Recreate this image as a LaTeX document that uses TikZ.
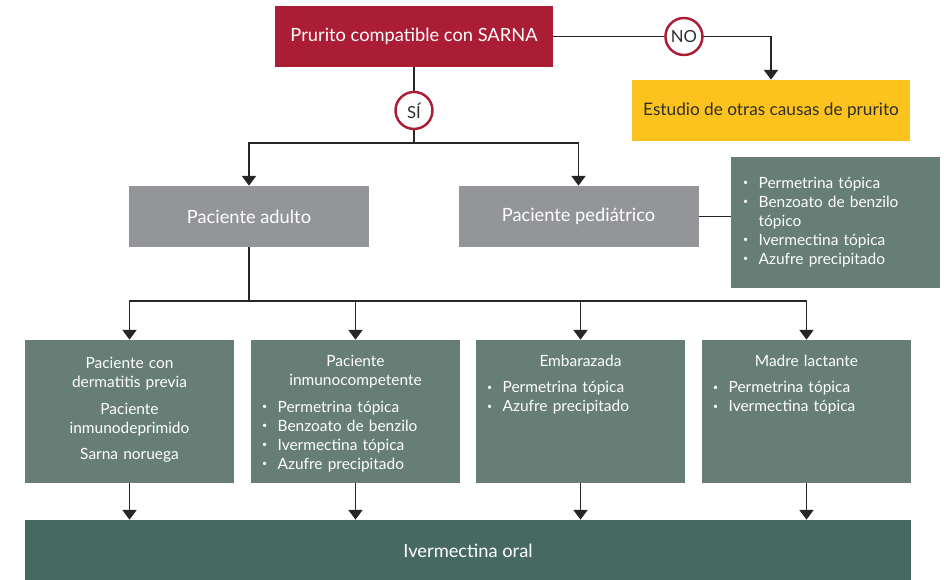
\documentclass[tikz,border=0pt]{standalone}
\usepackage{fontspec}
\setmainfont{Lato}
\usepackage{tikz}
\usetikzlibrary{arrows.meta}
\usetikzlibrary{positioning,calc}
\definecolor{sarnared}{HTML}{AA1D35}
\definecolor{otrasyellow}{HTML}{FCC31F}
\definecolor{pacgray}{HTML}{939598}
\definecolor{tratgreen}{HTML}{667E75}
\definecolor{oralgreen}{HTML}{466A61}
\definecolor{textgray}{HTML}{2E2E2E}
\newcommand*{\px}{0.02cm}
\newcommand*{\punto}{\raisebox{0.35ex}{\fontsize{5}{5}\selectfont\textbullet}}
\newcommand*{\grande}{\fontsize{10.4}{12}\selectfont}
\newcommand*{\chico}{\fontsize{8.8}{10.8}\selectfont}

\begin{document}
\begin{tikzpicture}[x=0.02cm,y=-0.02cm,
	caja/.style={rectangle,inner sep=0pt,text=white,font=\grande},
	trat/.style={caja,fill=tratgreen,minimum width=209*\px,minimum height=143*\px},
	texto/.style={anchor=north,inner sep=0pt,text=white,font=\chico,text width=187*\px,align=left},
	circ/.style={circle,draw=sarnared,line width=1.4pt,fill=white,minimum size=37*\px,inner sep=0pt,text=textgray,font=\fontsize{9.5}{11}\selectfont},
	flecha/.style={-{Triangle[width=8pt,length=5.5pt]}},
	linea/.style={line width=0.7pt,black!85}]
	\useasboundingbox (0,0) rectangle (944,580);
	% cajas
	\node[caja,fill=sarnared,minimum width=278*\px,minimum height=61*\px] (sarna) at (414,36.5) {Prurito compatible con SARNA};
	\node[caja,fill=otrasyellow,text=textgray,font=\fontsize{9.8}{12}\selectfont,minimum width=278*\px,minimum height=61*\px] (otras) at (771,110.5) {Estudio de otras causas de prurito};
	\node[caja,fill=pacgray,minimum width=240*\px,minimum height=61*\px] (adulto) at (249,216.5) {Paciente adulto};
	\node[caja,fill=pacgray,minimum width=240*\px,minimum height=61*\px] (pediatrico) at (578.5,216.5) {Paciente pedi\'atrico};
	\node[caja,fill=tratgreen,font=\chico,minimum width=209*\px,minimum height=131*\px,text width=185*\px,inner xsep=12*\px,align=left] (pedtrat) at (835.5,222.5) {%
		\begin{tabular}{@{}l@{\hspace{6pt}}l@{}}
		\punto & Permetrina tópica\\
		\punto & Benzoato de benzilo\\
		       & tópico\\
		\punto & Ivermectina tópica\\
		\punto & Azufre precipitado
		\end{tabular}};
	\node[trat] (dermatitis) at (129.5,411.5) {};
	\node[trat] (inmuno) at (355.5,411.5) {};
	\node[trat] (embarazada) at (580.5,411.5) {};
	\node[trat] (lactante) at (806.5,411.5) {};
	\node[caja,fill=oralgreen,minimum width=886*\px,minimum height=62*\px] (oral) at (468,551) {Ivermectina oral};
	% textos de las cajas
	\node[texto,align=center] (tdermatitis) at ($(dermatitis.north)+(0,17)$) {Paciente con\\dermatitis previa\\[4.5pt]Paciente\\inmunodeprimido\\[4.5pt]Sarna noruega};
	\node[texto] (tinmuno) at ($(inmuno.north)+(0,15)$) {\makebox[\linewidth]{Paciente}\\\makebox[\linewidth]{inmunocompetente}\\[5.5pt]%
		\begin{tabular}{@{}l@{\hspace{6pt}}l@{}}
		\punto & Permetrina tópica\\
		\punto & Benzoato de benzilo\\
		\punto & Ivermectina tópica\\
		\punto & Azufre precipitado
		\end{tabular}};
	\node[texto] (tembarazada) at ($(embarazada.north)+(0,15)$) {\makebox[\linewidth]{Embarazada}\\[6.5pt]%
		\begin{tabular}{@{}l@{\hspace{6pt}}l@{}}
		\punto & Permetrina tópica\\
		\punto & Azufre precipitado
		\end{tabular}};
	\node[texto] (tlactante) at ($(lactante.north)+(0,15)$) {\makebox[\linewidth]{Madre lactante}\\[6.5pt]%
		\begin{tabular}{@{}l@{\hspace{6pt}}l@{}}
		\punto & Permetrina tópica\\
		\punto & Ivermectina tópica
		\end{tabular}};
	% conectores
	\coordinate (ramaA) at (414,143);
	\coordinate (ramaB) at (249,301);
	\draw[linea,flecha] (sarna.east) -| node[circ,pos=0.3] (no) {NO} (otras);
	\draw[linea] (sarna.south) -- node[circ,pos=0.57] (si) {SÍ} (ramaA);
	\draw[linea,flecha] (ramaA) -| (adulto);
	\draw[linea,flecha] (ramaA) -| (pediatrico);
	\draw[linea] (pediatrico.east) -- (pediatrico.east -| pedtrat.west);
	\draw[linea] (adulto.south) -- (ramaB);
	\foreach \n in {dermatitis,inmuno,embarazada,lactante}{
		\draw[linea,flecha] (ramaB) -| (\n.north);
		\draw[linea,flecha] (\n.south) -- (\n.south |- oral.north);
	}
\end{tikzpicture}
\end{document}
